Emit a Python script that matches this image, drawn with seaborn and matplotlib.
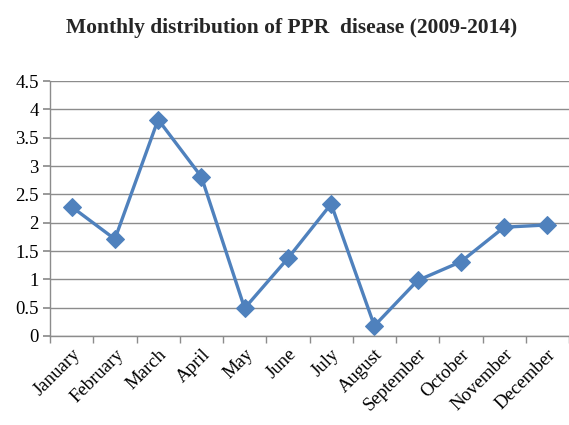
import matplotlib
matplotlib.use("Agg")
import matplotlib.pyplot as plt
import seaborn as sns
import pandas as pd
import numpy as np
from matplotlib.ticker import FixedLocator

months = ["January", "February", "March", "April", "May", "June", "July",
          "August", "September", "October", "November", "December"]
values = [2.28, 1.71, 3.82, 2.81, 0.49, 1.37, 2.33, 0.18, 0.98, 1.31, 1.92, 1.96]
yticks = [0, 0.5, 1, 1.5, 2, 2.5, 3, 3.5, 4, 4.5]
ytick_labels = ["0", "0.5", "1", "1.5", "2", "2.5", "3", "3.5", "4", "4.5"]
title = "Monthly distribution of PPR  disease (2009-2014)"

sns.set_theme(style="white")
plt.rcParams['font.family'] = ['Liberation Serif', 'DejaVu Serif']

df = pd.DataFrame({"month": months, "value": values})

fig = plt.figure(figsize=(5.69, 4.25), dpi=100)
ax = fig.add_axes([50/569, 89/425, 519/569, 255/425])

sns.lineplot(data=df, x="month", y="value", ax=ax, color="#4F81BD",
             linewidth=2.4, marker="D", markersize=9, markeredgecolor="#4F81BD",
             sort=False)

ax.set_xlim(-0.5, 11.5)
ax.set_ylim(0, 4.5)
ax.set_yticks(yticks)
ax.set_yticklabels(ytick_labels)
ax.grid(axis="y", color="#8c8c8c", linewidth=1.0)
ax.set_axisbelow(True)
ax.set_xlabel("")
ax.set_ylabel("")

for s in ["top", "right"]:
    ax.spines[s].set_visible(False)
for s in ["left", "bottom"]:
    ax.spines[s].set_color("#8c8c8c")
    ax.spines[s].set_linewidth(1.0)

ax.tick_params(axis="y", which="major", left=True, length=5, color="#8c8c8c",
               labelsize=13.5, pad=3, labelcolor="black")
ax.set_xticks(range(12))
ax.set_xticklabels(months, rotation=45, ha="right", rotation_mode="anchor",
                   fontsize=13.5)
ax.tick_params(axis="x", which="major", bottom=False, pad=1, labelcolor="black")
ax.xaxis.set_minor_locator(FixedLocator(np.arange(-0.5, 12, 1.0)))
ax.tick_params(axis="x", which="minor", bottom=True, length=5, color="#8c8c8c")

fig.text(292/569, 1 - 28/425, title, ha="center", va="center",
         fontsize=15.5, fontweight="bold")

fig.savefig("out.png", dpi=100)
